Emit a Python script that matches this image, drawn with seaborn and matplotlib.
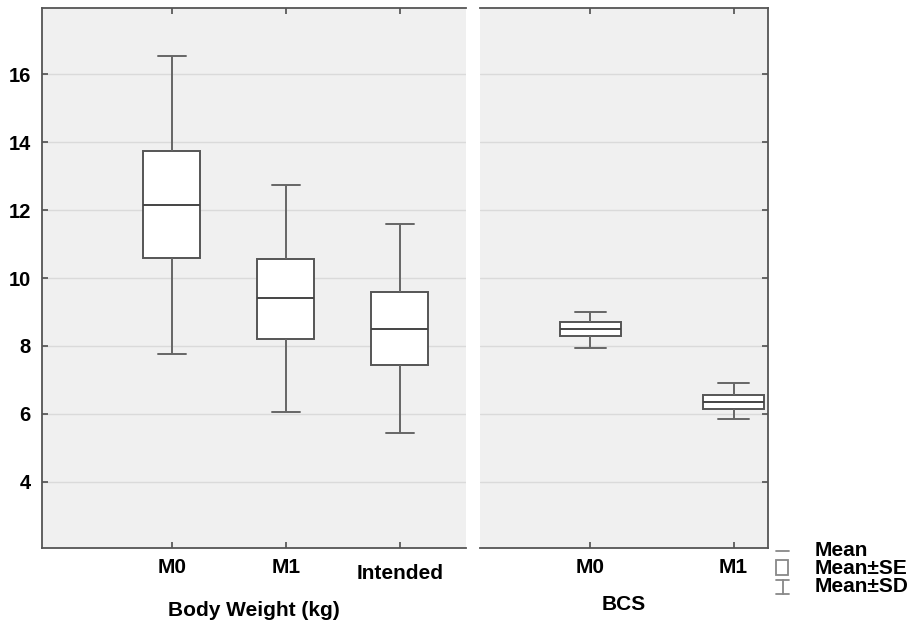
import pandas as pd
import seaborn as sns
import matplotlib.pyplot as plt
import matplotlib.transforms as mtransforms
from matplotlib.lines import Line2D
from matplotlib.patches import Rectangle

# values: mean, mean +/- SE (box), mean +/- SD (whiskers)
bw_groups = ["M0", "M1", "Intended"]
bw_mean = [12.15, 9.4, 8.5]
bw_se_low = [10.6, 8.2, 7.45]
bw_se_high = [13.75, 10.55, 9.6]
bw_sd_low = [7.75, 6.05, 5.45]
bw_sd_high = [16.55, 12.75, 11.6]

bcs_groups = ["M0", "M1"]
bcs_mean = [8.5, 6.35]
bcs_se_low = [8.3, 6.15]
bcs_se_high = [8.7, 6.55]
bcs_sd_low = [7.95, 5.85]
bcs_sd_high = [9.0, 6.9]

y_ticks = [4, 6, 8, 10, 12, 14, 16]


def five_point_frame(groups, sd_lo, se_lo, mean, se_hi, sd_hi):
    # five values per group so quartiles = SE limits, median = mean, min/max = SD limits
    rows = []
    for i, g in enumerate(groups):
        for v in (sd_lo[i], se_lo[i], mean[i], se_hi[i], sd_hi[i]):
            rows.append({"group": g, "value": v})
    return pd.DataFrame(rows)


df_bw = five_point_frame(bw_groups, bw_sd_low, bw_se_low, bw_mean, bw_se_high, bw_sd_high)
df_bcs = five_point_frame(bcs_groups, bcs_sd_low, bcs_se_low, bcs_mean, bcs_se_high, bcs_sd_high)

sns.set_theme(style="whitegrid")
plt.rcParams["font.family"] = ["Liberation Sans", "DejaVu Sans"]
plt.rcParams["font.weight"] = "bold"

fig = plt.figure(figsize=(9.16, 6.22), dpi=100)
ax1 = fig.add_axes([42 / 916, 1 - 548 / 622, 424 / 916, 540 / 622])
ax2 = fig.add_axes([480 / 916, 1 - 548 / 622, 288 / 916, 540 / 622])

box_kw = dict(
    whis=(0, 100), color="white", linecolor="#555555", linewidth=1.4,
    showfliers=False,
    medianprops=dict(color="#444444", linewidth=1.4),
    whiskerprops=dict(color="#666666", linewidth=1.4),
    capprops=dict(color="#666666", linewidth=1.4),
)

sns.boxplot(data=df_bw, x="group", y="value", order=bw_groups, width=0.5, ax=ax1, **box_kw)
sns.boxplot(data=df_bcs, x="group", y="value", order=bcs_groups, width=0.43, ax=ax2, **box_kw)

ax1.set_xlim(-1.14, 2.58)
ax2.set_xlim(-0.77, 1.24)

for ax in (ax1, ax2):
    ax.set_facecolor("#f0f0f0")
    ax.set_ylim(2.05, 17.95)
    ax.set_yticks(y_ticks)
    ax.set_axisbelow(True)
    ax.grid(False)
    ax.yaxis.grid(True, color="#dadada", linewidth=1.0)
    ax.set_ylabel("")
    for side in ("top", "bottom", "left", "right"):
        ax.spines[side].set_color("#555555")
        ax.spines[side].set_linewidth(1.3)
    ax.tick_params(axis="x", top=True, bottom=True, direction="in", length=4,
                   color="#555555", labelsize=15, pad=7, labelcolor="black")

ax1.spines["right"].set_visible(False)
ax2.spines["left"].set_visible(False)

ax1.tick_params(axis="y", left=True, right=False, direction="in", length=4,
                color="#555555", labelsize=14.5, pad=8, labelcolor="black")
ax2.tick_params(axis="y", left=False, right=True, direction="in", length=4,
                color="#555555", labelleft=False)

ax1.set_xlabel("Body Weight (kg)", fontsize=15, fontweight="bold", labelpad=13, color="black")
ax2.set_xlabel("BCS", fontsize=15, fontweight="bold", labelpad=13, color="black")

# "Intended" sits a bit lower than the other tick labels
offset = mtransforms.ScaledTranslation(0, -6 / 100, fig.dpi_scale_trans)
lbl = ax1.get_xticklabels()[2]
lbl.set_transform(lbl.get_transform() + offset)

# legend in the lower right corner
def fx(x):
    return x / 916


def fy(y):
    return 1 - y / 622


leg_col = "#888888"
fig.add_artist(Line2D([fx(776), fx(789)], [fy(551), fy(551)], color=leg_col, lw=1.3,
                      transform=fig.transFigure))
fig.add_artist(Rectangle((fx(776), fy(575)), fx(12), 15 / 622, fill=False, edgecolor=leg_col,
                         lw=1.3, transform=fig.transFigure))
fig.add_artist(Line2D([fx(776), fx(789)], [fy(580), fy(580)], color=leg_col, lw=1.3,
                      transform=fig.transFigure))
fig.add_artist(Line2D([fx(776), fx(789)], [fy(594), fy(594)], color=leg_col, lw=1.3,
                      transform=fig.transFigure))
fig.add_artist(Line2D([fx(782.5), fx(782.5)], [fy(580), fy(594)], color=leg_col, lw=1.3,
                      transform=fig.transFigure))
for text, y in (("Mean", 551), ("Mean±SE", 569), ("Mean±SD", 587)):
    fig.text(fx(815), fy(y), text, fontsize=15, fontweight="bold", va="center",
             ha="left", color="black")

fig.savefig("out.png", dpi=100)
